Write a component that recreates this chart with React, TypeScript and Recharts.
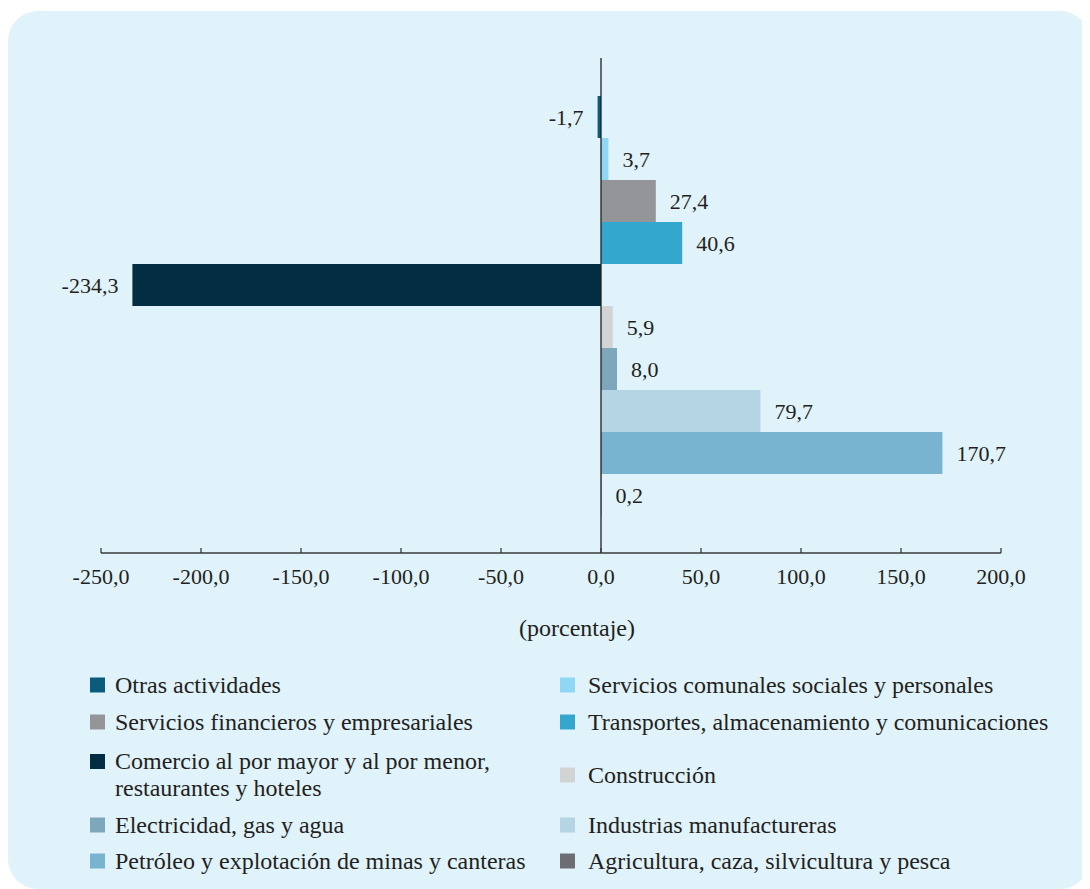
import { BarChart, Bar, XAxis, YAxis, Cell, LabelList, ReferenceLine } from 'recharts'

const categories = [
  'Otras actividades',
  'Servicios comunales sociales y personales',
  'Servicios financieros y empresariales',
  'Transportes, almacenamiento y comunicaciones',
  'Comercio al por mayor y al por menor,\nrestaurantes y hoteles',
  'Construcción',
  'Electricidad, gas y agua',
  'Industrias manufactureras',
  'Petróleo y explotación de minas y canteras',
  'Agricultura, caza, silvicultura y pesca',
]
const values = [-1.7, 3.7, 27.4, 40.6, -234.3, 5.9, 8.0, 79.7, 170.7, 0.2]
const colors = [
  '#0a5b7c', '#8fd7f4', '#939598', '#34a7cf', '#022d42',
  '#d2d3d5', '#7fa7bc', '#b5d4e4', '#78b4d0', '#6d6e71',
]
const xTicks = [-250, -200, -150, -100, -50, 0, 50, 100, 150, 200]

const data = categories.map((name, i) => ({ name, value: values[i] }))

const FONT = '"Liberation Serif", "Times New Roman", serif'
const INK = '#231f20'
const PANEL = '#e0f2fa'

const fmt = (v: number) => v.toFixed(1).replace('.', ',')

function AxisTick(props: any) {
  const { x, y, payload } = props
  return (
    <g>
      <line x1={x} x2={x} y1={y - 5} y2={y} stroke="#3a3a3a" strokeWidth={1.3} />
      <text x={x} y={y + 31} textAnchor="middle" fontFamily={FONT} fontSize={22} fill={INK}>
        {fmt(payload.value)}
      </text>
    </g>
  )
}

function BarLabel(props: any) {
  const { x, y, width, height, value } = props
  const left = Math.min(x, x + width)
  const right = Math.max(x, x + width)
  const neg = value < 0
  return (
    <text
      x={neg ? left - 14 : right + 14}
      y={y + height / 2}
      dy="0.35em"
      textAnchor={neg ? 'end' : 'start'}
      fontFamily={FONT}
      fontSize={22}
      fill={INK}
    >
      {fmt(value)}
    </text>
  )
}

// legend rows: pairs of categories, centre y inside the panel
const legendRowY = [674, 711, 764, 814, 850]

function LegendItem({ i }: { i: number }) {
  const twoLines = categories[i].includes('\n')
  const rightCol = i % 2 === 1
  return (
    <div
      style={{
        position: 'absolute',
        left: rightCol ? 552 : 82,
        top: legendRowY[Math.floor(i / 2)],
        transform: 'translateY(-50%)',
        display: 'flex',
        alignItems: twoLines ? 'flex-start' : 'center',
      }}
    >
      <div
        style={{
          width: 15,
          height: 15,
          background: colors[i],
          marginTop: twoLines ? 6 : 0,
          marginRight: rightCol ? 13 : 10,
          flexShrink: 0,
        }}
      />
      <div style={{ whiteSpace: 'pre-line', lineHeight: '27px' }}>{categories[i]}</div>
    </div>
  )
}

export default function App() {
  return (
    <div
      style={{
        position: 'relative',
        marginTop: 3,
        width: 1082,
        height: 878,
        background: PANEL,
        borderRadius: 30,
        fontFamily: FONT,
        fontSize: 24,
        color: INK,
      }}
    >
      <div style={{ position: 'absolute', left: 0, top: 0 }}>
        <BarChart
          width={1082}
          height={600}
          data={data}
          layout="vertical"
          barCategoryGap={0}
          margin={{ top: 47, right: 89, left: 93, bottom: 18 }}
        >
          <XAxis
            type="number"
            domain={[-250, 200]}
            ticks={xTicks}
            interval={0}
            tickLine={false}
            tickSize={0}
            tickMargin={0}
            height={40}
            axisLine={{ stroke: '#3a3a3a', strokeWidth: 1.3 }}
            tick={<AxisTick />}
          />
          <YAxis type="category" dataKey="name" hide padding={{ top: 38, bottom: 37 }} />
          <ReferenceLine x={0} stroke={INK} strokeWidth={1.3} />
          <Bar dataKey="value" isAnimationActive={false}>
            {data.map((_, i) => (
              <Cell key={i} fill={colors[i]} />
            ))}
            <LabelList dataKey="value" content={<BarLabel />} />
          </Bar>
        </BarChart>
      </div>
      <div
        style={{
          position: 'absolute',
          left: 569,
          top: 617,
          transform: 'translate(-50%, -50%)',
          whiteSpace: 'nowrap',
        }}
      >
        (porcentaje)
      </div>
      {categories.map((_, i) => (
        <LegendItem key={i} i={i} />
      ))}
    </div>
  )
}
